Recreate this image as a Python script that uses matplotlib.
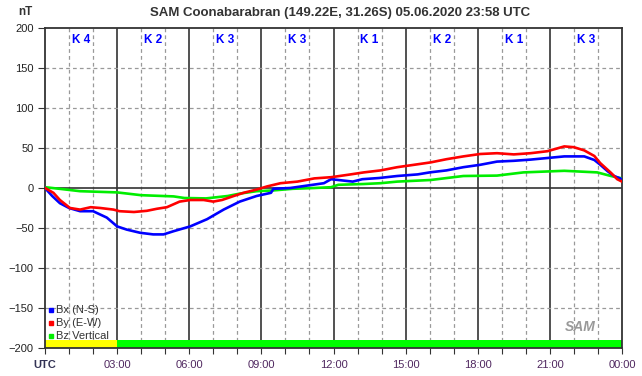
import numpy as np
import matplotlib.pyplot as plt

plt.rcParams['font.family'] = ['Liberation Sans', 'DejaVu Sans']

# horas y valores (nT)
bx_h = [0, 0.3, 0.62, 1.0, 1.46, 2.0, 2.57, 3.0, 3.4, 3.96, 4.5, 4.93, 5.35, 6.04, 6.74,
        7.43, 8.1, 8.8, 9.4, 9.5, 10.2, 10.9, 11.6, 11.9, 12.2, 12.8, 13.2, 13.9, 14.65,
        15.5, 16.0, 16.7, 17.4, 18.1, 18.8, 19.5, 20.2, 20.9, 21.6, 22.43, 22.85, 23.1,
        23.4, 23.67, 24]
bx = [0, -10, -19, -25, -29, -29, -37, -48, -52, -56, -58, -58, -54, -48, -39,
      -27, -17, -10, -6, -1, 0, 3, 6, 11, 10, 8, 11, 12.5, 15,
      17, 19.5, 22, 26, 29, 33, 34, 35.5, 37.5, 39.5, 39.5, 35, 29,
      21, 15, 11]

by_h = [0, 0.35, 0.62, 1.04, 1.46, 1.9, 2.3, 2.85, 3.1, 3.7, 4.24, 4.65, 5.07, 5.6, 6.04,
        6.6, 7.0, 7.36, 7.85, 8.26, 8.8, 9.24, 9.8, 10.5, 11.2, 11.9, 12.6, 13.26, 13.96,
        14.65, 15.35, 16.04, 16.7, 17.4, 18.1, 18.8, 19.5, 20.2, 20.9, 21.6, 22.0, 22.43,
        22.85, 23.1, 23.54, 23.8, 24]
by = [0, -6, -15, -25, -27, -24, -25, -27, -29, -30, -28.5, -26, -24, -17, -15,
      -15, -17, -15, -10, -6, -2, 2, 6, 8, 12, 13.5, 16.5, 19.5, 22,
      26, 29, 32, 36, 39.5, 42.5, 43.5, 42, 43.5, 46, 52, 51, 47,
      40, 31, 19, 11, 8]

bz_h = [0, 0.6, 1.46, 3.0, 4.0, 5.35, 5.8, 6.7, 7.6, 8.1, 8.8, 9.5, 10.3, 11.2, 11.9,
        12.2, 13.26, 13.96, 14.65, 16.04, 17.4, 18.8, 19.9, 21.6, 22.97, 23.54, 24]
bz = [1, -1, -4, -5.5, -9, -10.5, -12.5, -13, -10, -7, -4, -3, -1, 0, 1,
      4, 5, 6, 8, 10, 15, 15.5, 19.5, 21.5, 19.5, 15, 12]

k_index = ['K 4', 'K 2', 'K 3', 'K 3', 'K 1', 'K 2', 'K 1', 'K 3']

# barra de estado inferior
band_start = [0, 3]
band_end = [3, 24]
band_colors = ['#ffff00', '#00ff00']

fig = plt.figure(figsize=(6.42, 3.76), dpi=100)
ax = fig.add_axes([45/642, 28/376, 577/642, 320/376])

ax.set_xlim(0, 24)
ax.set_ylim(-200, 200)

# rejilla
for h in range(1, 24):
    if h % 3 == 0:
        ax.axvline(h, color='#333333', lw=1.2, zorder=1)
    else:
        ax.axvline(h, color='#999999', lw=0.9, ls=(0, (3, 2.5)), zorder=1)
for v in range(-150, 200, 50):
    if v == 0:
        ax.axhline(v, color='#333333', lw=1.2, zorder=1)
    else:
        ax.axhline(v, color='#999999', lw=0.9, ls=(0, (3, 2.5)), zorder=1)

for s, e, c in zip(band_start, band_end, band_colors):
    ax.bar(s, 10, width=e - s, bottom=-200, align='edge', color=c, zorder=2)

ax.plot(bz_h, bz, color='#00ee00', lw=1.9, zorder=3)
ax.plot(bx_h, bx, color='#0000ff', lw=1.9, zorder=4)
ax.plot(by_h, by, color='#ff0000', lw=1.9, zorder=5)

for i, k in enumerate(k_index):
    ax.text(3 * i + 1.5, 193, k, color='#0000ff', fontsize=8.5, fontweight='bold',
            ha='center', va='top', zorder=6)

for sp in ax.spines.values():
    sp.set_color('#333333')
    sp.set_linewidth(1.3)

ax.set_yticks(range(-200, 201, 50))
ax.set_xticks(range(0, 25))
xlabels = ['' if h % 3 else '%02d:00' % (h % 24) for h in range(25)]
xlabels[0] = 'UTC'
ax.set_xticklabels(xlabels)
ax.tick_params(axis='y', direction='out', length=5, colors='#333333', labelsize=8,
               labelcolor='#222222', pad=3)
ax.tick_params(axis='x', direction='out', length=4, colors='#333333', labelsize=8,
               labelcolor='#502860', pad=5)
lab0 = ax.get_xticklabels()[0]
lab0.set_fontweight('bold')
lab0.set_color('#333355')

# leyenda
legend_names = ['Bx (N-S)', 'By (E-W)', 'Bz Vertical']
legend_colors = ['#0000ff', '#ff0000', '#00ee00']
for i, (n, c) in enumerate(zip(legend_names, legend_colors)):
    ypx = 310 + 13 * i
    ax.plot([51/642], [1 - ypx/376], marker='s', ms=2.5, color=c,
            transform=fig.transFigure, clip_on=False, zorder=6)
    fig.text(56/642, 1 - ypx/376, n, color='#333333', fontsize=8, ha='left', va='center')

fig.text(340/642, 1 - 13/376, 'SAM Coonabarabran (149.22E, 31.26S) 05.06.2020 23:58 UTC',
         ha='center', va='center', fontsize=9.5, fontweight='bold', color='#333333')
fig.text(18/642, 1 - 12/376, 'nT', ha='left', va='center', fontsize=8.5,
         fontweight='bold', color='#333333')
fig.text(580/642, 1 - 327/376, 'SAM', ha='center', va='center', fontsize=10,
         fontstyle='italic', fontweight='bold', color='#999999')

fig.savefig('out.png', dpi=100)
